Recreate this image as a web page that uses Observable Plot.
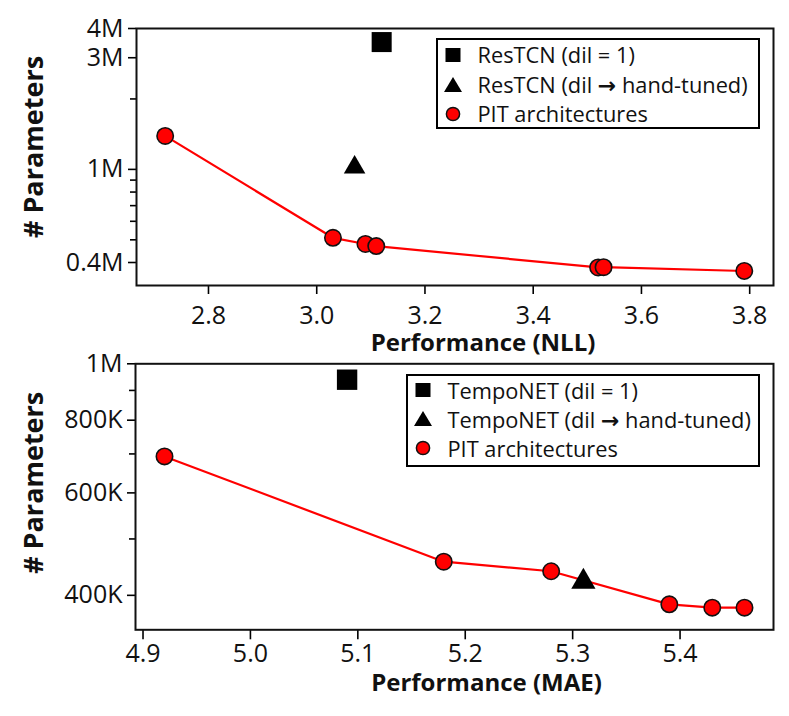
<!DOCTYPE html>
<html>
<head>
<meta charset="utf-8">
<script src="https://cdn.jsdelivr.net/npm/d3@7"></script>
<script src="https://cdn.jsdelivr.net/npm/@observablehq/plot@0.6"></script>
<style>
  body { margin: 0; background: white; }
  #wrap { position: relative; width: 789px; height: 716px; font-family: "Open Sans", sans-serif; }
  #wrap svg.plotsvg { position: absolute; left: 0; }
  .legend { position: absolute; border: 2px solid black; box-sizing: border-box; background: white; }
  .legend .row { position: absolute; left: 0; height: 30px; display: flex; align-items: center; font-size: 21.8px; color: #111; white-space: nowrap; }
  .legend .row svg { position: absolute; }
  .legend .arrow { font-family: "DejaVu Sans", sans-serif; font-size: 22px; font-weight: bold; }
</style>
</head>
<body>
<div id="wrap"></div>
<script>
// ---------- Data: top panel (NLL) ----------
const nllPerf = [2.72, 3.03, 3.09, 3.11, 3.52, 3.53, 3.79];
const nllParams = [1.39e6, 0.51e6, 0.48e6, 0.47e6, 0.381e6, 0.382e6, 0.368e6];
const nllDil1Perf = [3.12];
const nllDil1Params = [3.5e6];
const nllHandPerf = [3.07];
const nllHandParams = [1.02e6];
const nllXTicks = [2.8, 3.0, 3.2, 3.4, 3.6, 3.8];
const nllYTicks = [4e6, 3e6, 1e6, 0.4e6];
const nllYTickLabels = ["4M", "3M", "1M", "0.4M"];
const nllYMinor = [2e6, 0.9e6, 0.8e6, 0.7e6, 0.6e6, 0.5e6];
const nllLegend = ["ResTCN (dil = 1)", "ResTCN (dil \u2192 hand-tuned)", "PIT architectures"];

// ---------- Data: bottom panel (MAE) ----------
const maePerf = [4.92, 5.18, 5.28, 5.39, 5.43, 5.46];
const maeParams = [693e3, 457e3, 440e3, 386e3, 381e3, 381e3];
const maeDil1Perf = [5.09];
const maeDil1Params = [939e3];
const maeHandPerf = [5.31];
const maeHandParams = [422e3];
const maeXTicks = [4.9, 5.0, 5.1, 5.2, 5.3, 5.4];
const maeYTicks = [1e6, 800e3, 600e3, 400e3];
const maeYTickLabels = ["1M", "800K", "600K", "400K"];
const maeYMinor = [900e3, 700e3, 500e3];
const maeLegend = ["TempoNET (dil = 1)", "TempoNET (dil \u2192 hand-tuned)", "PIT architectures"];

const zip = (xs, ys) => xs.map((x, i) => ({perf: x, params: ys[i]}));

function panel(cfg) {
  const pit = zip(cfg.perf, cfg.params);
  const dil1 = zip(cfg.dil1Perf, cfg.dil1Params);
  const hand = zip(cfg.handPerf, cfg.handParams);
  const labelOf = new Map(cfg.yTicks.map((v, i) => [v, cfg.yTickLabels[i]]));
  const svg = Plot.plot({
    width: 789,
    height: cfg.height,
    marginLeft: cfg.marginLeft,
    marginRight: cfg.marginRight,
    marginTop: cfg.marginTop,
    marginBottom: cfg.marginBottom,
    style: {fontFamily: "Open Sans", fontSize: "25px", background: "transparent", overflow: "visible", color: "black"},
    x: {domain: cfg.xDomain},
    y: {type: "log", domain: cfg.yDomain},
    marks: [
      Plot.axisX({ticks: cfg.xTicks, tickFormat: d3.format(".1f"), tickSize: cfg.xTickSize, tickPadding: cfg.xTickPadding, label: null, strokeWidth: 1.6, fill: "#111", fontSize: 25}),
      Plot.axisY({ticks: cfg.yTicks, tickFormat: d => labelOf.get(d), tickSize: 8, tickPadding: 5, label: null, strokeWidth: 1.6, fill: "#111", fontSize: 25}),
      Plot.axisY({ticks: cfg.yMinor, tickFormat: () => "", tickSize: 6, label: null, strokeWidth: 1.6}),
      Plot.frame({stroke: "#111", strokeWidth: 2}),
      Plot.line(pit, {x: "perf", y: "params", stroke: "#ff0000", strokeWidth: 2.2}),
      Plot.dot(pit, {x: "perf", y: "params", r: 8.2, fill: "#ff0000", stroke: "#111", strokeWidth: 1.6}),
      Plot.dot(dil1, {x: "perf", y: "params", symbol: "square", r: cfg.squareR, fill: "#000"}),
      Plot.dot(hand, {x: "perf", y: "params", symbol: "triangle", r: cfg.triR, fill: "#000"}),
      Plot.text([cfg.xLabel], {text: d => d, frameAnchor: "bottom", textAnchor: "middle", lineAnchor: "middle", dx: cfg.xLabelDx, dy: cfg.xLabelDy, fontWeight: "bold", fontSize: 24, fill: "#111"}),
      Plot.text(["# Parameters"], {text: d => d, frameAnchor: "left", textAnchor: "middle", lineAnchor: "middle", rotate: -90, dx: cfg.yLabelDx, dy: cfg.yLabelDy, fontWeight: "bold", fontSize: 27, fill: "#111"})
    ]
  });
  svg.classList.add("plotsvg");
  svg.style.top = cfg.top + "px";
  return svg;
}

function legend(cfg) {
  const div = document.createElement("div");
  div.className = "legend";
  Object.assign(div.style, {left: cfg.left + "px", top: cfg.top + "px", width: cfg.width + "px", height: cfg.height + "px"});
  const syms = ["square", "triangle", "circle"];
  cfg.labels.forEach((lab, i) => {
    const row = document.createElement("div");
    row.className = "row";
    row.style.top = (cfg.rowCenters[i] - 15) + "px";
    row.style.width = "100%";
    const ns = "http://www.w3.org/2000/svg";
    const s = document.createElementNS(ns, "svg");
    s.setAttribute("width", 24); s.setAttribute("height", 24);
    s.style.left = (cfg.markerX - 12) + "px";
    s.style.top = "3px";
    let shape;
    if (syms[i] === "square") {
      shape = document.createElementNS(ns, "rect");
      shape.setAttribute("x", 4.5); shape.setAttribute("y", 5); shape.setAttribute("width", 15); shape.setAttribute("height", 14);
      shape.setAttribute("fill", "#000");
    } else if (syms[i] === "triangle") {
      shape = document.createElementNS(ns, "path");
      shape.setAttribute("d", "M12,4 L21,19 L3,19 Z");
      shape.setAttribute("fill", "#000");
    } else {
      shape = document.createElementNS(ns, "circle");
      shape.setAttribute("cx", 12); shape.setAttribute("cy", 12); shape.setAttribute("r", 6.6);
      shape.setAttribute("fill", "#ff0000"); shape.setAttribute("stroke", "#111"); shape.setAttribute("stroke-width", 1.5);
    }
    s.appendChild(shape);
    row.appendChild(s);
    const t = document.createElement("span");
    t.style.position = "absolute";
    t.style.left = cfg.textX + "px";
    lab.split("\u2192").forEach((part, j) => {
      if (j > 0) {
        const a = document.createElement("span");
        a.className = "arrow";
        a.textContent = "\u2192";
        t.appendChild(a);
      }
      t.appendChild(document.createTextNode(part));
    });
    row.appendChild(t);
    div.appendChild(row);
  });
  return div;
}

const wrap = document.getElementById("wrap");
wrap.appendChild(panel({
  top: 0, height: 360, marginLeft: 136, marginRight: 16, marginTop: 28, marginBottom: 75,
  perf: nllPerf, params: nllParams, dil1Perf: nllDil1Perf, dil1Params: nllDil1Params,
  handPerf: nllHandPerf, handParams: nllHandParams,
  xDomain: [2.667, 3.844], yDomain: [0.319e6, 4e6],
  xTicks: nllXTicks, yTicks: nllYTicks, yTickLabels: nllYTickLabels, yMinor: nllYMinor,
  xTickSize: 9, xTickPadding: 12, squareR: 11.3, triR: 8,
  xLabel: "Performance (NLL)", xLabelDx: 28, xLabelDy: 58, yLabelDx: -102, yLabelDy: -10
}));
wrap.appendChild(panel({
  top: 340, height: 376, marginLeft: 135, marginRight: 16, marginTop: 23.3, marginBottom: 86.7,
  perf: maePerf, params: maeParams, dil1Perf: maeDil1Perf, dil1Params: maeDil1Params,
  handPerf: maeHandPerf, handParams: maeHandParams,
  xDomain: [4.893, 5.487], yDomain: [349e3, 1e6],
  xTicks: maeXTicks, yTicks: maeYTicks, yTickLabels: maeYTickLabels, yMinor: maeYMinor,
  xTickSize: 10, xTickPadding: 4.5, squareR: 11.5, triR: 9,
  xLabel: "Performance (MAE)", xLabelDx: 32, xLabelDy: 53.5, yLabelDx: -101.5, yLabelDy: -14
}));
wrap.appendChild(legend({left: 435.5, top: 37.5, width: 324, height: 91, labels: nllLegend, rowCenters: [15, 45, 74], markerX: 15, textX: 40}));
wrap.appendChild(legend({left: 405.5, top: 373.5, width: 354, height: 93, labels: maeLegend, rowCenters: [14.5, 43.5, 72.5], markerX: 15, textX: 40}));
</script>
</body>
</html>
